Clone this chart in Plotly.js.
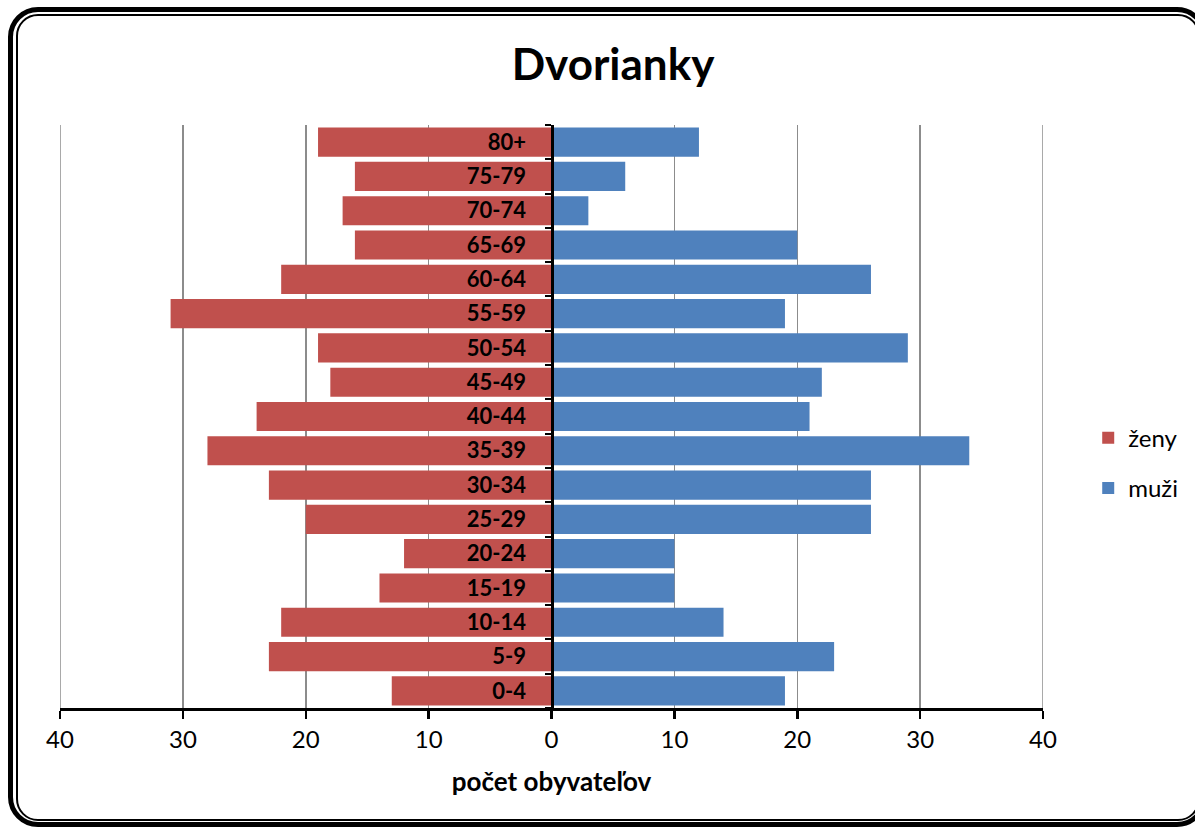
<!DOCTYPE html>
<html>
<head>
<meta charset="utf-8">
<script src="https://cdn.plot.ly/plotly-3.0.1.min.js"></script>
<style>
  html, body { margin:0; padding:0; background:#fff; }
  #wrap { position:relative; width:1195px; height:829px; overflow:hidden; }
  #chart { position:absolute; left:0; top:0; width:1195px; height:829px; }
  .frame { position:absolute; box-sizing:border-box; pointer-events:none; border-style:solid; border-color:#000; }
  #outer { left:8px; top:7px; width:1199px; height:820px; border-width:5px; border-radius:30px; }
  #inner { left:16px; top:14px; width:1184px; height:807px; border-width:2px; border-radius:22px; }
</style>
</head>
<body>
<div id="wrap">
  <div id="chart"></div>
  <div id="outer" class="frame"></div>
  <div id="inner" class="frame"></div>
</div>
<script>
const ageGroups = ["0-4","5-9","10-14","15-19","20-24","25-29","30-34","35-39","40-44","45-49","50-54","55-59","60-64","65-69","70-74","75-79","80+"];
const zeny = [13,23,22,14,12,20,23,28,24,18,19,31,22,16,17,16,19];
const muzi = [19,23,14,10,10,26,26,34,21,22,29,19,26,20,3,6,12];
const xTickVals = [-40,-30,-20,-10,0,10,20,30,40];
const xTickText = ["40","30","20","10","0","10","20","30","40"];

const font = "Lato, 'Open Sans', 'Liberation Sans', sans-serif";

const traces = [
  { type:"bar", orientation:"h", name:"ženy", legendgroup:"z", y:ageGroups, x:zeny.map(v => -v),
    marker:{color:"#C0504D"}, hoverinfo:"skip" },
  { type:"bar", orientation:"h", name:"muži", legendgroup:"m", y:ageGroups, x:muzi,
    marker:{color:"#4F81BD"}, hoverinfo:"skip" }
];

// edge gridlines (Plotly omits gridlines at the exact range ends)
const edgeGrid = [xTickVals[0], xTickVals[xTickVals.length - 1]].map(v => ({
  type:"line", xref:"x", yref:"paper", x0:v, x1:v, y0:0, y1:1,
  line:{color:"#8c8c8c", width:1.5}, layer:"below"
}));

const layout = {
  width:1195, height:829,
  margin:{l:60, r:152, t:125, b:121},
  paper_bgcolor:"rgba(0,0,0,0)", plot_bgcolor:"rgba(0,0,0,0)",
  barmode:"overlay", bargap:0.15,
  font:{family:font, color:"#000", size:22},
  title:{text:"<b>Dvorianky</b>", x:0.513, xanchor:"center", y:0.922, yanchor:"middle",
         font:{family:font, size:44, color:"#000"}},
  xaxis:{range:[-40,40], tickvals:xTickVals, ticktext:xTickText,
         showgrid:true, gridcolor:"#8c8c8c", gridwidth:1.5, zeroline:false,
         showline:true, linecolor:"#000", linewidth:3,
         ticks:"outside", ticklen:8, tickwidth:2.5, tickcolor:"#000",
         tickfont:{size:24, family:font},
         title:{text:"<b>počet obyvateľov</b>", font:{size:26, family:font}, standoff:22},
         fixedrange:true},
  yaxis:{type:"category", categoryorder:"array", categoryarray:ageGroups,
         anchor:"free", position:0.5, side:"left",
         showgrid:false, zeroline:false,
         showline:true, linecolor:"#000", linewidth:3,
         ticks:"outside", tickson:"boundaries", ticklen:6, tickwidth:2, tickcolor:"#000",
         ticklabelstandoff:20,
         tickfont:{size:22, family:font, weight:"bold"},
         fixedrange:true},
  shapes: edgeGrid,
  legend:{x:1.046, xanchor:"left", y:0.42, yanchor:"middle", traceorder:"grouped",
          font:{size:24, family:font}, itemwidth:30, tracegroupgap:16,
          bgcolor:"rgba(0,0,0,0)"},
  showlegend:true
};

Plotly.newPlot("chart", traces, layout, {displayModeBar:false, staticPlot:true});
</script>
</body>
</html>
